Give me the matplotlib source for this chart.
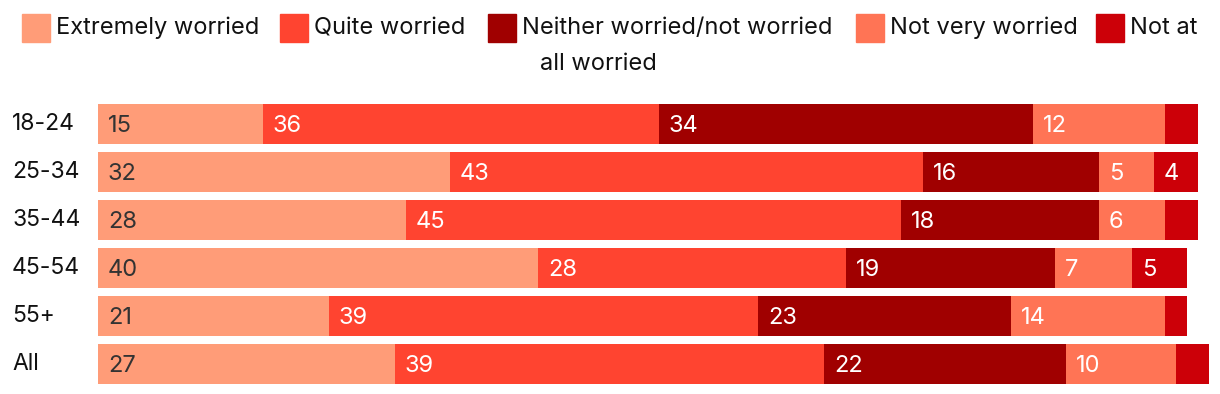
import numpy as np
import matplotlib.pyplot as plt

plt.rcParams['font.family'] = ['Inter', 'DejaVu Sans']

groups = ['18-24', '25-34', '35-44', '45-54', '55+', 'All']
series = ['Extremely worried', 'Quite worried', 'Neither worried/not worried',
          'Not very worried', 'Not at all worried']
extremely = [15, 32, 28, 40, 21, 27]
quite = [36, 43, 45, 28, 39, 39]
neither = [34, 16, 18, 19, 23, 22]
not_very = [12, 5, 6, 7, 14, 10]
not_at_all = [3, 4, 3, 5, 2, 3]

colors = ['#FF9C78', '#FF4430', '#A00000', '#FF7455', '#CC0008']
label_colors = ['#333333', 'white', 'white', 'white', 'white']
FS = 17

W, H = 1220, 394
fig = plt.figure(figsize=(W / 100, H / 100), dpi=100)
ax = fig.add_axes([98 / W, 1 - 388 / H, 1100 / W, 288 / H])

y = np.arange(len(groups))
left = np.zeros(len(groups))
for vals, c, tc in zip([extremely, quite, neither, not_very, not_at_all], colors, label_colors):
    vals = np.array(vals, dtype=float)
    ax.barh(y, vals, left=left, height=40 / 48, color=c, clip_on=False)
    for yi, l, v in zip(y, left, vals):
        if v >= 4:
            ax.text(l + 0.9, yi + 0.175, f'{v:.0f}', color=tc, fontsize=FS,
                    va='baseline', ha='left')
    left += vals

ax.set_xlim(0, 100)
ax.set_ylim(len(groups) - 0.5, -0.5)
ax.axis('off')

# category labels
for yi, g in zip(y, groups):
    ax.text(-86 / 11, yi + 0.125, g, fontsize=16.5, color='#111111',
            va='baseline', ha='left')

# legend (wraps like the original)
sq_x = [22, 280, 488, 856, 1096]
for sx, c, name in zip(sq_x, colors, series):
    fig.patches.append(plt.Rectangle((sx / W, 1 - 42 / H), 28 / W, 28 / H,
                                     transform=fig.transFigure, color=c))
    txt = 'Not at' if name == 'Not at all worried' else name
    fig.text((sx + 34) / W, 1 - 34 / H, txt, fontsize=FS, color='#111111',
             va='baseline', ha='left')
fig.text(540 / W, 1 - 70 / H, 'all worried', fontsize=FS, color='#111111',
         va='baseline', ha='left')

fig.savefig('out.png', dpi=100)
